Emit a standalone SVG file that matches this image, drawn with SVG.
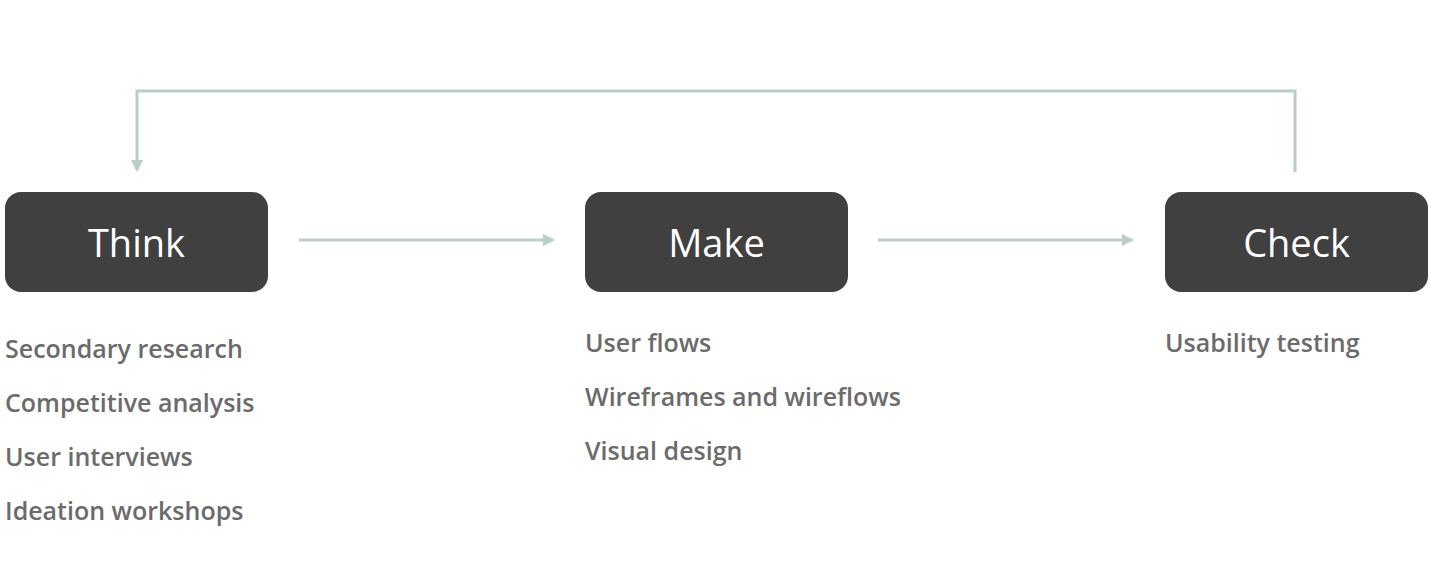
<svg xmlns="http://www.w3.org/2000/svg" width="1440" height="564" viewBox="0 0 1440 564">
<style>
.box{fill:#404040}
.t{font-family:"Open Sans",sans-serif;font-size:38px;fill:#fff;text-anchor:middle}
.i{font-family:"Open Sans",sans-serif;font-size:25px;font-weight:600;fill:#6b6b6b}
.c{stroke:#b7cfc7;stroke-width:3;fill:none}
</style>
<defs><marker id="a" markerWidth="12" markerHeight="12" refX="10" refY="6" orient="auto" markerUnits="userSpaceOnUse"><path d="M0,0 L12,6 L0,12 Z" fill="#b7cfc7"/></marker></defs>
<rect width="1440" height="564" fill="#fff"/>
<g id="connectors">
<path class="c" d="M299,240 H553" marker-end="url(#a)"/>
<path class="c" d="M878,240 H1132" marker-end="url(#a)"/>
<path class="c" d="M1295,172 V91 H137 V170" marker-end="url(#a)"/>
</g>
<g id="think"><rect class="box" x="5" y="192" width="263" height="100" rx="16"/><text class="t" x="136.5" y="257">Think</text>
<text class="i" x="5" y="358">Secondary research</text><text class="i" x="5" y="412">Competitive analysis</text><text class="i" x="5" y="466">User interviews</text><text class="i" x="5" y="520">Ideation workshops</text></g>
<g id="make"><rect class="box" x="585" y="192" width="263" height="100" rx="16"/><text class="t" x="716.5" y="257">Make</text>
<text class="i" x="585" y="352">User flows</text><text class="i" x="585" y="406">Wireframes and wireflows</text><text class="i" x="585" y="460">Visual design</text></g>
<g id="check"><rect class="box" x="1165" y="192" width="263" height="100" rx="16"/><text class="t" x="1296.5" y="257">Check</text>
<text class="i" x="1165" y="352">Usability testing</text></g>
</svg>
